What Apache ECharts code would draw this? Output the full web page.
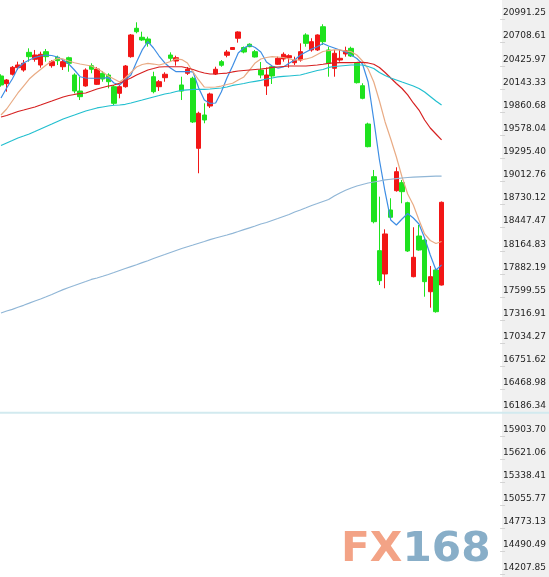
<!DOCTYPE html>
<html><head><meta charset="utf-8">
<script src="https://cdn.jsdelivr.net/npm/echarts@6/dist/echarts.min.js"></script>
<style>html,body{margin:0;padding:0;background:#fff}#c{width:549px;height:577px}</style>
</head><body><div id="c"></div>
<script>
// ---- data ----
const opens = [20301,20207,20322,20402,20374,20590,20505,20435,20598,20427,
  20529,20414,20524,20313,20117,20179,20427,20199,20334,20313,
  20170,20089,20170,20537,20884,20774,20753,20292,20170,20280,
  20557,20484,20191,20334,20273,19417,19824,19934,20325,20476,
  20554,20625,20762,20649,20689,20598,20374,20179,20414,20444,
  20509,20524,20463,20496,20802,20619,20619,20903,20619,20395,
  20496,20570,20639,20456,20182,19714,19070,18166,17881,18663,
  18899,18997,18752,17848,18345,18296,17664,17930,17746];
const closes = [20191,20252,20407,20435,20456,20537,20557,20566,20537,20476,
  20488,20476,20456,20117,20048,20374,20383,20386,20264,20231,
  19967,20170,20423,20802,20842,20741,20700,20109,20231,20322,
  20517,20524,20117,20383,19739,19845,19763,20081,20383,20432,
  20594,20649,20839,20594,20659,20533,20313,20313,20301,20517,
  20566,20549,20496,20598,20700,20720,20802,20720,20456,20578,
  20517,20610,20545,20219,20028,19437,18520,17799,18370,18574,
  19131,18887,18162,18085,18174,17787,17848,17420,18757];
const lows = [20170,20109,20307,20374,20353,20476,20476,20402,20476,20402,
  20435,20374,20353,20089,20007,20170,20334,20191,20231,20150,
  19946,20028,20158,20524,20823,20729,20659,20089,20117,20231,
  20484,20427,20007,20313,19726,19112,19723,19910,20313,20414,
  20529,20619,20708,20578,20652,20527,20273,20069,20203,20435,
  20476,20402,20435,20476,20659,20598,20606,20680,20292,20292,
  20476,20537,20533,20209,20016,19429,18500,17746,17706,18549,
  18887,18745,18150,17840,18166,17603,17469,17408,17740];
const highs = [20322,20264,20423,20476,20496,20639,20619,20598,20631,20496,
  20549,20496,20537,20334,20292,20395,20456,20411,20362,20334,
  20191,20191,20435,20814,20957,20842,20781,20353,20252,20346,
  20590,20549,20292,20411,20292,19864,19967,20097,20414,20496,
  20619,20655,20847,20661,20700,20619,20472,20405,20435,20537,
  20590,20566,20537,20700,20823,20762,20810,20933,20659,20619,
  20619,20659,20659,20472,20212,19730,19152,18826,18427,18806,
  19185,19030,18764,18452,18480,18317,17979,17950,18767];
const ma5 = [20032,20154,20264,20398,20460,20496,20527,20545,20557,20551,
  20533,20496,20447,20374,20292,20276,20273,20273,20276,20282,
  20215,20191,20252,20313,20472,20619,20720,20643,20545,20460,
  20398,20353,20353,20353,20350,20154,20007,19965,19971,20105,
  20276,20423,20582,20643,20680,20649,20594,20472,20423,20398,
  20411,20456,20496,20557,20594,20631,20659,20698,20667,20643,
  20619,20594,20557,20515,20447,20227,19763,19274,18883,18541,
  18480,18553,18620,18565,18492,18321,18113,17930,17991];
const ma10 = [19824,19897,19995,20093,20178,20264,20325,20380,20435,20484,
  20515,20509,20484,20463,20447,20435,20423,20392,20350,20301,
  20264,20227,20276,20344,20411,20441,20454,20447,20435,20454,
  20478,20509,20502,20460,20350,20252,20166,20163,20166,20178,
  20197,20212,20252,20289,20374,20460,20509,20527,20537,20533,
  20527,20509,20496,20496,20509,20527,20564,20600,20612,20619,
  20619,20606,20598,20557,20484,20386,20227,19995,19739,19531,
  19311,19066,18859,18724,18541,18370,18290,18254,18278];
const ma30 = [19800,19818,19842,19867,19885,19904,19922,19946,19971,19995,
  20020,20044,20062,20075,20087,20093,20117,20142,20160,20178,
  20191,20212,20246,20276,20313,20344,20374,20392,20411,20414,
  20414,20414,20414,20398,20380,20356,20337,20325,20325,20331,
  20337,20350,20362,20368,20374,20380,20386,20395,20405,20411,
  20417,20423,20423,20423,20423,20429,20435,20444,20454,20460,
  20463,20463,20463,20466,20468,20460,20444,20405,20344,20276,
  20209,20148,20069,19971,19885,19763,19665,19592,19519];
const ma60 = [19451,19482,19512,19543,19567,19592,19622,19653,19684,19714,
  19745,19775,19800,19824,19849,19873,19891,19910,19922,19934,
  19943,19946,19955,19971,19989,20007,20026,20044,20062,20081,
  20093,20111,20124,20130,20136,20138,20138,20142,20148,20154,
  20166,20185,20197,20209,20224,20236,20248,20264,20276,20289,
  20295,20301,20307,20313,20331,20350,20368,20380,20405,20417,
  20423,20429,20435,20435,20435,20417,20392,20344,20307,20276,
  20252,20227,20203,20178,20148,20105,20050,19995,19946];
const maLong = [17404,17429,17449,17474,17498,17524,17551,17575,17602,17630,
  17661,17690,17716,17740,17765,17789,17814,17832,17853,17875,
  17899,17924,17948,17971,17994,18019,18042,18070,18095,18119,
  18144,18168,18192,18214,18235,18257,18278,18300,18321,18339,
  18357,18378,18400,18423,18445,18467,18492,18510,18535,18559,
  18584,18608,18639,18663,18690,18718,18742,18767,18791,18834,
  18871,18904,18932,18956,18975,18993,19005,19017,19030,19039,
  19047,19054,19060,19064,19068,19071,19074,19076,19078];
const yTickLabels = ['14207.85','14490.49','14773.13','15055.77','15338.41','15621.06',
  '15903.70','16186.34','16468.98','16751.62','17034.27','17316.91','17599.55',
  '17882.19','18164.83','18447.47','18730.12','19012.76','19295.40','19578.04',
  '19860.68','20143.33','20425.97','20708.61','20991.25'];
const yMin = 14207.85, yMax = 20991.25;
const refLineValue = 16186.34;
const emptySlots = 10;
const categories = opens.map((_, i) => 'K' + (i + 1))
  .concat(Array.from({length: emptySlots}, (_, i) => 'F' + (i + 1)));

// ---- chart ----
const chart = echarts.init(document.getElementById('c'), null, {renderer: 'canvas'});
const candleData = opens.map((o, i) => [o, closes[i], lows[i], highs[i]]);
const interval = (yMax - yMin) / (yTickLabels.length - 1);
const up = '#f21616', down = '#1ee21e';
function ma(name, data, color) {
  return {name, type: 'line', data, symbol: 'none', smooth: false, silent: true,
    lineStyle: {color, width: 1.2}, z: 3};
}
chart.setOption({
  animation: false,
  backgroundColor: '#ffffff',
  grid: {left: 1, right: 49, top: 19.5, bottom: 2.5},
  xAxis: {type: 'category', data: categories, boundaryGap: false, show: false},
  yAxis: {
    type: 'value', position: 'right', offset: 2, min: yMin, max: yMax, interval,
    z: 5,
    splitLine: {show: false},
    axisLine: {show: false},
    axisTick: {show: true, length: 5, lineStyle: {color: '#d4d4d4'}},
    axisLabel: {
      formatter: v => yTickLabels[Math.round((v - yMin) / interval)] || '',
      fontFamily: 'DejaVu Sans', fontSize: 9, color: '#1e1e1e',
      verticalAlign: 'bottom', align: 'left', margin: 3, padding: [0, 0, 2, 0]
    }
  },
  series: [
    {type: 'candlestick', data: candleData, barWidth: 5, z: 2,
      itemStyle: {color: up, color0: down, borderColor: up, borderColor0: down, borderWidth: 1}},
    ma('MA5', ma5, '#3d8de4'),
    ma('MA10', ma10, '#e9ab84'),
    ma('MA30', ma30, '#d62020'),
    ma('MA60', ma60, '#22bfcf'),
    ma('MA long', maLong, '#90b6d6')
  ]
});
const refY = chart.convertToPixel({yAxisIndex: 0}, refLineValue);
chart.setOption({
  graphic: [
    {type: 'rect', z: -10, shape: {x: 502, y: 0, width: 47, height: 577}, style: {fill: '#f0f0f0'}},
    {type: 'line', z: 10, shape: {x1: 0, y1: refY, x2: 549, y2: refY},
      style: {stroke: '#d2eaef', lineWidth: 2}},
    {type: 'text', z: 1, x: 341, y: 550, scaleX: 1.03, style: {
      text: '{a|FX}{b|168}', verticalAlign: 'middle',
      rich: {
        a: {fill: '#f3a386', fontSize: 41, fontWeight: 'bold', fontFamily: 'DejaVu Sans'},
        b: {fill: '#88aec8', fontSize: 41, fontWeight: 'bold', fontFamily: 'DejaVu Sans'}
      }}}
  ]
});
</script></body></html>
